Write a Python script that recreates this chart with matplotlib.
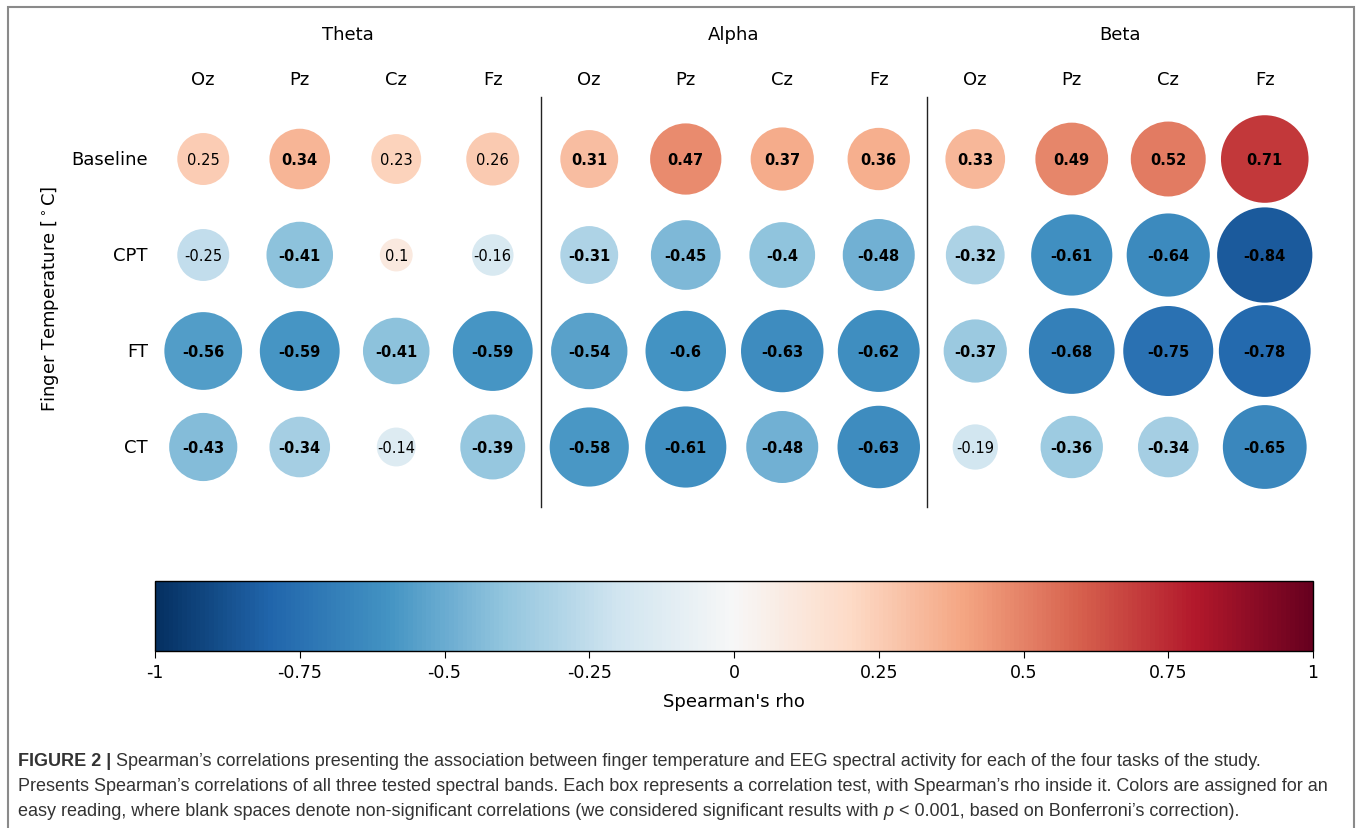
import matplotlib

matplotlib.use("Agg")

import matplotlib.pyplot as plt
import numpy as np
from matplotlib.patches import Rectangle

plt.rcParams["font.family"] = ["DejaVu Sans"]

BANDS = ["Theta", "Alpha", "Beta"]
ELECTRODES = ["Oz", "Pz", "Cz", "Fz"]
CONDITIONS = ["Baseline", "CPT", "FT", "CT"]

# Spearman's rho, one row per condition, columns = band x electrode
RHO_BASELINE = [0.25, 0.34, 0.23, 0.26, 0.31, 0.47, 0.37, 0.36, 0.33, 0.49, 0.52, 0.71]
RHO_CPT = [-0.25, -0.41, 0.1, -0.16, -0.31, -0.45, -0.4, -0.48, -0.32, -0.61, -0.64, -0.84]
RHO_FT = [-0.56, -0.59, -0.41, -0.59, -0.54, -0.6, -0.63, -0.62, -0.37, -0.68, -0.75, -0.78]
RHO_CT = [-0.43, -0.34, -0.14, -0.39, -0.58, -0.61, -0.48, -0.63, -0.19, -0.36, -0.34, -0.65]

CBAR_TICKS = [-1, -0.75, -0.5, -0.25, 0, 0.25, 0.5, 0.75, 1]
CBAR_LABELS = ["-1", "-0.75", "-0.5", "-0.25", "0", "0.25", "0.5", "0.75", "1"]

W, H = 1358, 829
CAPTION_FONT = ["Liberation Sans", "DejaVu Sans"]
CAPTION_GRAY = "#333333"


def px_box(x0, y0, x1, y1):
    """Figure-fraction rect from pixel box (top-left origin)."""
    return [x0 / W, 1 - y1 / H, (x1 - x0) / W, (y1 - y0) / H]


def caption_line(fig, x, y, pieces, size):
    """Draw text pieces side by side on one baseline, pixel coords."""
    renderer = fig.canvas.get_renderer()
    for text, weight, style in pieces:
        t = fig.text(x / W, 1 - y / H, text, fontsize=size, fontweight=weight,
                     fontstyle=style, family=CAPTION_FONT, color=CAPTION_GRAY,
                     ha="left", va="baseline")
        x = t.get_window_extent(renderer).x1


fig = plt.figure(figsize=(W / 100, H / 100), dpi=100)

# page frame
fig.patches.append(Rectangle((8 / W, -0.02), (W - 12) / W, 1 - 8 / H + 0.02,
                             transform=fig.transFigure, fill=False,
                             edgecolor="#8a8a8a", linewidth=1.5))

rho = np.array([RHO_BASELINE, RHO_CPT, RHO_FT, RHO_CT])
n_rows, n_cols = rho.shape
cmap = plt.get_cmap("RdBu_r")
norm = plt.Normalize(-1, 1)

ax = fig.add_axes(px_box(155, 98, 1313, 508))
ax.set_xlim(-0.5, n_cols - 0.5)
ax.set_ylim(3.625, -0.646)
ax.axis("off")

xs, ys = np.meshgrid(np.arange(n_cols), np.arange(n_rows))
ax.scatter(xs.ravel(), ys.ravel(), s=5600 * np.abs(rho.ravel()),
           c=rho.ravel(), cmap=cmap, norm=norm, linewidths=0)

for r in range(n_rows):
    for c in range(n_cols):
        v = rho[r, c]
        ax.text(c, r, f"{v:g}", ha="center", va="center", fontsize=10.5,
                family="DejaVu Sans",
                fontweight="bold" if abs(v) >= 0.3 else "normal", color="black")

for k in range(1, len(BANDS)):
    ax.plot([k * 4 - 0.5] * 2, [-0.646, 3.625], color="#222222", lw=1.0, clip_on=False)

for b, band in enumerate(BANDS):
    ax.text(b * 4 + 1.5, -1.30, band, ha="center", va="center", fontsize=13, clip_on=False)
    for e, el in enumerate(ELECTRODES):
        ax.text(b * 4 + e, -0.83, el, ha="center", va="center", fontsize=13, clip_on=False)

for r, cond in enumerate(CONDITIONS):
    ax.text(-0.575, r, cond, ha="right", va="center", fontsize=13, clip_on=False)

ax.text(-1.59, 1.45, r"Finger Temperature [$^\circ$C]", rotation=90,
        ha="center", va="center", fontsize=13, clip_on=False)

# colorbar
cax = fig.add_axes(px_box(155, 582, 1313, 652))
sm = plt.cm.ScalarMappable(norm=norm, cmap=cmap)
cb = fig.colorbar(sm, cax=cax, orientation="horizontal")
cb.set_ticks(CBAR_TICKS)
cb.set_ticklabels(CBAR_LABELS)
cb.ax.tick_params(labelsize=12.5, length=5)
cb.set_label("Spearman's rho", fontsize=13, labelpad=8)
cb.outline.set_linewidth(1.0)

# caption
cap_size = 13
caption_line(fig, 18, 766, [
    ("FIGURE 2 | ", "bold", "normal"),
    ("Spearman\u2019s correlations presenting the association between finger temperature "
     "and EEG spectral activity for each of the four tasks of the study.", "normal", "normal"),
], cap_size)
caption_line(fig, 18, 791, [
    ("Presents Spearman\u2019s correlations of all three tested spectral bands. Each box "
     "represents a correlation test, with Spearman\u2019s rho inside it. Colors are assigned "
     "for an", "normal", "normal"),
], cap_size)
caption_line(fig, 18, 816, [
    ("easy reading, where blank spaces denote non-significant correlations (we considered "
     "significant results with ", "normal", "normal"),
    ("p", "normal", "italic"),
    (" < 0.001, based on Bonferroni\u2019s correction).", "normal", "normal"),
], cap_size)

fig.savefig("out.png", dpi=100)
